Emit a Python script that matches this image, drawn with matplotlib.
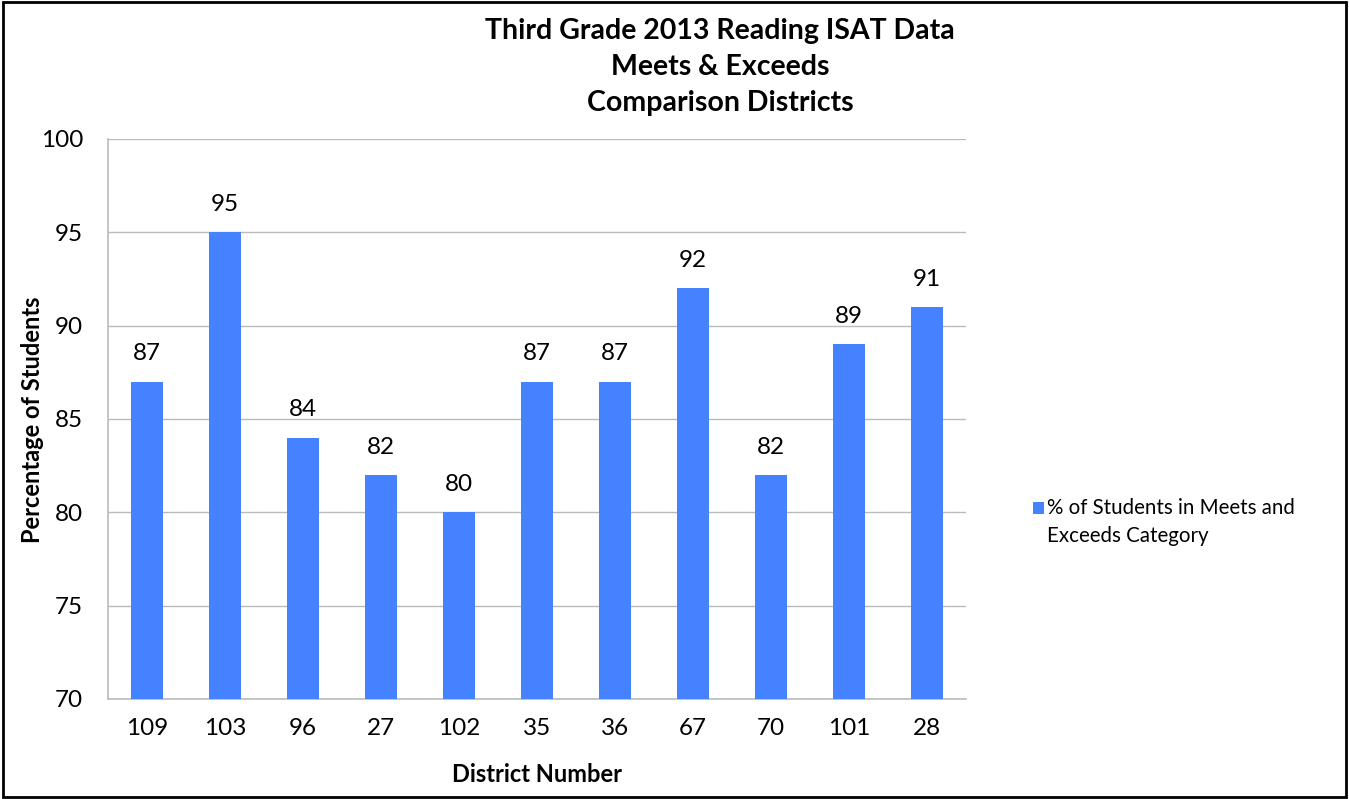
#!/usr/bin/env python3
"""Third grade 2013 reading ISAT bar chart."""

import matplotlib
matplotlib.use("Agg")
import matplotlib.pyplot as plt
from matplotlib.patches import Rectangle, Patch

districts = ["109", "103", "96", "27", "102", "35", "36", "67", "70", "101", "28"]
pct_meets = [87, 95, 84, 82, 80, 87, 87, 92, 82, 89, 91]
y_ticks = [70, 75, 80, 85, 90, 95, 100]

BAR_COLOR = "#4482FF"
GRID_COLOR = "#BBBBBB"
plt.rcParams["font.family"] = ["Lato", "DejaVu Sans"]

fig = plt.figure(figsize=(13.49, 7.99), dpi=100)
ax = fig.add_axes([0.0801, 0.1252, 0.636, 0.701])

x = range(len(districts))
ax.bar(x, pct_meets, width=0.41, color=BAR_COLOR, zorder=3)
for xi, v in zip(x, pct_meets):
    ax.annotate(f"{v}", (xi, v), xytext=(0, 20), textcoords="offset points",
                ha="center", va="center", fontsize=17.5)

ax.set_xlim(-0.5, len(districts) - 0.5)
ax.set_ylim(70, 100)
ax.set_yticks(y_ticks)
ax.set_xticks(list(x))
ax.set_xticklabels(districts)
ax.tick_params(axis="both", length=0, labelsize=17.5)
ax.tick_params(axis="x", pad=14)
ax.tick_params(axis="y", pad=18)
ax.grid(axis="y", color=GRID_COLOR, linewidth=1, zorder=0)
for side in ["top", "right"]:
    ax.spines[side].set_visible(False)
for side in ["left", "bottom"]:
    ax.spines[side].set_color(GRID_COLOR)
    ax.spines[side].set_linewidth(1.2)

fig.text(33 / 1349, 1 - 420 / 799, "Percentage of Students", rotation=90,
         ha="center", va="center", fontsize=17, fontweight="bold")
fig.text(537 / 1349, 1 - 774 / 799, "District Number",
         ha="center", va="center", fontsize=17, fontweight="bold")

fig.text(0.534, 1 - 67 / 799, "Third Grade 2013 Reading ISAT Data\nMeets & Exceeds\nComparison Districts",
         ha="center", va="center", fontsize=20.5, fontweight="bold", linespacing=1.5)

handles = [Patch(facecolor=BAR_COLOR, label="% of Students in Meets and\nExceeds Category")]
leg = fig.legend(handles=handles, loc="center left", bbox_to_anchor=(1033 / 1349, 1 - 522 / 799),
                 frameon=False, fontsize=14.8, handlelength=0.55, handleheight=0.55,
                 handletextpad=0.15, borderpad=0, borderaxespad=0)
leg.get_texts()[0].set_linespacing(1.5)
# move the square up to sit beside the first line, as in the original
sq = leg.legend_handles[0]
sq.set_y(sq.get_y() + 10.5)

fig.add_artist(Rectangle((0.002, 0.003), 0.996, 0.994, transform=fig.transFigure,
                         fill=False, edgecolor="black", linewidth=2))

fig.savefig("out.png", dpi=100)
